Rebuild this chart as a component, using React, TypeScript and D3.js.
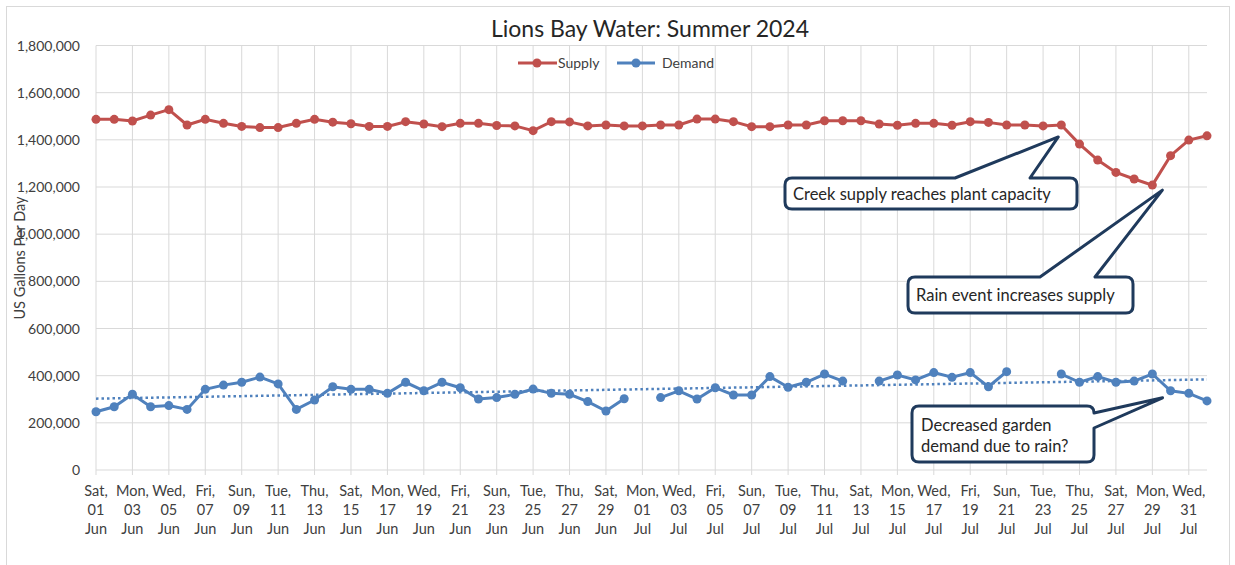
import React from 'react'
import * as d3 from 'd3'

// one reading per day, 01 Jun 2024 .. 01 Aug 2024
const days = d3.timeDay.range(new Date(2024, 5, 1), new Date(2024, 7, 2))

const supply = [
  1487000, 1487000, 1480000, 1505000, 1528000, 1463000, 1487000, 1470000, 1457000, 1452000,
  1452000, 1470000, 1487000, 1475000, 1468000, 1457000, 1457000, 1477000, 1467000, 1456000,
  1470000, 1470000, 1461000, 1459000, 1439000, 1477000, 1476000, 1459000, 1463000, 1459000,
  1459000, 1463000, 1463000, 1488000, 1488000, 1477000, 1456000, 1456000, 1463000, 1463000,
  1481000, 1481000, 1481000, 1467000, 1462000, 1470000, 1470000, 1462000, 1477000, 1474000,
  1463000, 1463000, 1459000, 1463000, 1382000, 1314000, 1262000, 1234000, 1208000, 1333000,
  1399000, 1417000,
]

const demand: (number | null)[] = [
  247000, 268000, 321000, 268000, 273000, 257000, 342000, 360000, 372000, 394000,
  365000, 257000, 297000, 353000, 342000, 342000, 325000, 372000, 336000, 372000,
  349000, 301000, 307000, 321000, 343000, 325000, 321000, 290000, 250000, 302000,
  null, 307000, 336000, 301000, 349000, 318000, 318000, 396000, 351000, 372000,
  407000, 377000, null, 377000, 403000, 382000, 413000, 393000, 413000, 353000,
  417000, null, null, 407000, 372000, 396000, 372000, 377000, 407000, 336000,
  325000, 293000,
]

const yTicks = [0, 200000, 400000, 600000, 800000, 1000000, 1200000, 1400000, 1600000, 1800000]

const SUPPLY_COLOR = '#c0504d'
const DEMAND_COLOR = '#4f81bd'
const GRID = '#d9d9d9'
const NAVY = '#1f3a5c'
const FONT = 'Lato, "Open Sans", sans-serif'

// callout: rounded box plus a pointer wedge on one side
function calloutPath(
  box: { x0: number; y0: number; x1: number; y1: number },
  side: 'top' | 'right',
  a: number,
  b: number,
  tip: [number, number]
) {
  const r = 7
  const { x0, y0, x1, y1 } = box
  const p = d3.path()
  p.moveTo(x0 + r, y0)
  if (side === 'top') {
    p.lineTo(a, y0)
    p.lineTo(tip[0], tip[1])
    p.lineTo(b, y0)
  }
  p.lineTo(x1 - r, y0)
  p.quadraticCurveTo(x1, y0, x1, y0 + r)
  if (side === 'right') {
    p.lineTo(x1, a)
    p.lineTo(tip[0], tip[1])
    p.lineTo(x1, b)
  }
  p.lineTo(x1, y1 - r)
  p.quadraticCurveTo(x1, y1, x1 - r, y1)
  p.lineTo(x0 + r, y1)
  p.quadraticCurveTo(x0, y1, x0, y1 - r)
  p.lineTo(x0, y0 + r)
  p.quadraticCurveTo(x0, y0, x0 + r, y0)
  p.closePath()
  return p.toString()
}

export default function App() {
  const width = 1235
  const height = 565
  const left = 96
  const right = 1207
  const top = 45.5
  const bottom = 470

  const x = d3.scaleLinear().domain([0, days.length - 1]).range([left, right])
  const y = d3.scaleLinear().domain([0, 1800000]).range([bottom, top])

  const line = d3
    .line<number | null>()
    .defined((d) => d != null)
    .x((d, i) => x(i))
    .y((d) => y(d as number))

  // linear trendline of demand (least squares, like Excel)
  const pts = demand.map((d, i) => [i, d] as [number, number | null]).filter((p) => p[1] != null) as [number, number][]
  const mx = d3.mean(pts, (p) => p[0]) as number
  const my = d3.mean(pts, (p) => p[1]) as number
  const slope =
    (d3.sum(pts, (p) => (p[0] - mx) * (p[1] - my)) as number) / (d3.sum(pts, (p) => (p[0] - mx) ** 2) as number)
  const trend = (i: number) => my + slope * (i - mx)
  const n = days.length - 1

  const fmt = d3.format(',')
  const fDay = d3.timeFormat('%a,')
  const fNum = d3.timeFormat('%d')
  const fMon = d3.timeFormat('%b')
  const labelIdx = d3.range(0, days.length, 2)

  const tip1: [number, number] = [x(53) - 3, y(supply[53]) + 12]
  const tip2: [number, number] = [x(58) + 10, y(supply[58]) + 5]
  const tip3: [number, number] = [x(59) - 8, y(demand[59] as number) + 7]

  return (
    <svg
      width={width}
      height={height}
      style={{ position: 'absolute', left: 0, top: 0, background: '#fff' }}
      fontFamily={FONT}
    >
      <rect x={6.5} y={6.5} width={1223} height={560} fill="#fff" stroke={GRID} />

      <text x={650} y={37} textAnchor="middle" fontSize={23} fill="#262626">
        Lions Bay Water: Summer 2024
      </text>

      {/* grid */}
      {yTicks.map((t) => (
        <line key={'h' + t} x1={left} x2={right} y1={y(t)} y2={y(t)} stroke={GRID} strokeWidth={1} />
      ))}
      {labelIdx.map((i) => (
        <line key={'v' + i} x1={x(i)} x2={x(i)} y1={top} y2={bottom + 5} stroke={GRID} strokeWidth={1} />
      ))}

      {/* y axis labels */}
      {yTicks.map((t) => (
        <text key={'yl' + t} x={80} y={y(t) + 5} textAnchor="end" fontSize={14} fill="#404040">
          {fmt(t)}
        </text>
      ))}
      <text
        transform="translate(25,258) rotate(-90)"
        textAnchor="middle"
        fontSize={14.5}
        fill="#404040"
      >
        US Gallons Per Day
      </text>

      {/* x axis labels */}
      {labelIdx.map((i) => (
        <text key={'xl' + i} x={x(i)} textAnchor="middle" fontSize={14.5} fill="#404040">
          <tspan x={x(i)} y={496}>{fDay(days[i])}</tspan>
          <tspan x={x(i)} y={515}>{fNum(days[i])}</tspan>
          <tspan x={x(i)} y={534}>{fMon(days[i])}</tspan>
        </text>
      ))}

      {/* trendline */}
      <line
        x1={x(0)}
        x2={x(n)}
        y1={y(trend(0))}
        y2={y(trend(n))}
        stroke={DEMAND_COLOR}
        strokeWidth={2.5}
        strokeDasharray="2.5,3"
      />

      {/* series */}
      <path d={line(supply) as string} fill="none" stroke={SUPPLY_COLOR} strokeWidth={3} />
      {supply.map((d, i) => (
        <circle key={'s' + i} cx={x(i)} cy={y(d)} r={4.5} fill={SUPPLY_COLOR} />
      ))}
      <path d={line(demand) as string} fill="none" stroke={DEMAND_COLOR} strokeWidth={3} />
      {demand.map((d, i) =>
        d == null ? null : <circle key={'d' + i} cx={x(i)} cy={y(d)} r={4.5} fill={DEMAND_COLOR} />
      )}

      {/* legend */}
      <g fontSize={14} fill="#404040">
        <line x1={518} x2={557} y1={63} y2={63} stroke={SUPPLY_COLOR} strokeWidth={3} />
        <circle cx={537} cy={63} r={4.5} fill={SUPPLY_COLOR} />
        <text x={558} y={68}>Supply</text>
        <line x1={617} x2={655} y1={63} y2={63} stroke={DEMAND_COLOR} strokeWidth={3} />
        <circle cx={636} cy={63} r={4.5} fill={DEMAND_COLOR} />
        <text x={662} y={68}>Demand</text>
      </g>

      {/* callouts */}
      <g fill="#fff" stroke={NAVY} strokeWidth={3} strokeLinejoin="round">
        <path d={calloutPath({ x0: 785, y0: 178, x1: 1077, y1: 209 }, 'top', 955, 1030, tip1)} />
        <path d={calloutPath({ x0: 908, y0: 277, x1: 1133, y1: 313 }, 'top', 1040, 1095, tip2)} />
        <path d={calloutPath({ x0: 912, y0: 406, x1: 1094, y1: 462 }, 'right', 413, 428, tip3)} />
      </g>
      <g fontSize={16.5} fill="#262626">
        <text x={793} y={200}>Creek supply reaches plant capacity</text>
        <text x={916} y={301}>Rain event increases supply</text>
        <text x={921} y={431}>Decreased garden</text>
        <text x={921} y={452}>demand due to rain?</text>
      </g>
    </svg>
  )
}
